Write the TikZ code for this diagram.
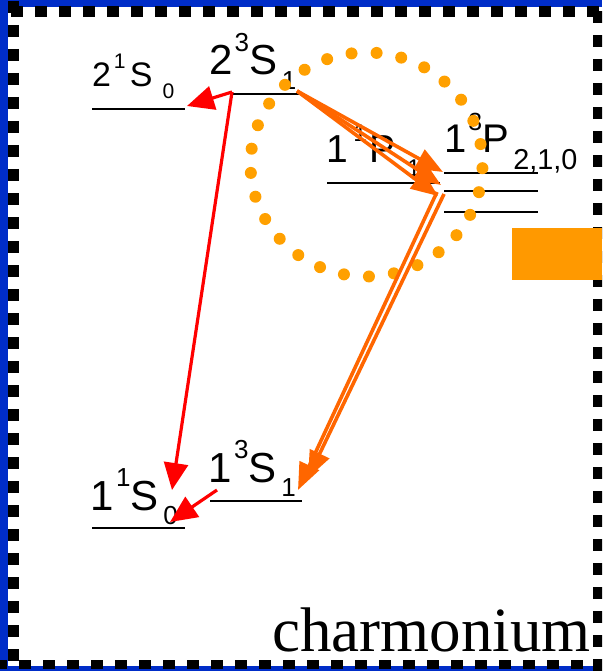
\documentclass[tikz,border=0pt]{standalone}
\usepackage{fontspec}
\setmainfont{Liberation Serif}
\newfontfamily\lblfont{Liberation Sans}
\usepackage{xcolor}
\usepackage{tikz}
\usetikzlibrary{arrows.meta,positioning}
\definecolor{frameblue}{RGB}{0,45,200}
\definecolor{boxorange}{RGB}{255,153,0}
\definecolor{dotorange}{RGB}{255,160,0}
\definecolor{arroworange}{RGB}{255,102,0}
\definecolor{arrowred}{RGB}{255,0,0}
\newcommand{\spec}[5][0.11em]{#2\hspace{0.05em}\raisebox{0.55em}{\scalebox{0.62}{#3}}#4\hspace{#1}\raisebox{-0.35em}{\scalebox{0.62}{#5}}}
\tikzstyle{level} = [line width=2.8pt, black]
\tikzstyle{bigterm} = [inner sep=0pt, anchor=base west, font=\lblfont\fontsize{42}{42}\selectfont]
\tikzstyle{smallterm} = [inner sep=0pt, anchor=base west, font=\lblfont\fontsize{35}{35}\selectfont]
\tikzstyle{redarrow} = [-{Triangle[length=27pt,width=24pt]}, line width=3.2pt, arrowred]
\tikzstyle{orangearrow} = [-{Triangle[length=27pt,width=21pt]}, line width=3.6pt, arroworange]
\tikzstyle{edge} = [line width=11pt, black, dash pattern=on 12pt off 12pt]

\begin{document}
\begin{tikzpicture}[x=1pt,y=-1pt]
\useasboundingbox (0,0) rectangle (602,671);
\begin{scope}
\clip (0,0) rectangle (602,671);
\fill[frameblue] (0,0) rectangle (602,7);
\fill[frameblue] (0,0) rectangle (8,671);
\fill[frameblue] (0,666) rectangle (602,671);
\draw[edge, dash phase=13pt] (0,11.5) -- (602,11.5);
\draw[edge, dash phase=13pt] (598,0) -- (598,671);
\draw[edge, dash phase=23pt] (13,0) -- (13,671);
\draw[edge, line width=9pt, dash phase=5pt] (0,664) -- (602,664);
\fill[boxorange] (512,228) rectangle (602,280);
\end{scope}

\draw[level] (92,109) -- (185,109);
\draw[level] (232,94) -- (300,94);
\draw[level] (327,183) -- (440,183);
\draw[level] (444,173) -- (538,173);
\draw[level] (444,191) -- (538,191);
\draw[level] (444,212) -- (538,212);
\draw[level] (210,501) -- (302,501);
\draw[level] (92,528) -- (185,528);

\node[smallterm, font=\lblfont\fontsize{34}{34}\selectfont] (l21S0) at (92,87) {\spec[0.3em]{2}{\hspace{0.05em}1\hspace{0.2em}}{S}{0}};
\node[bigterm] (l23S1) at (209,75) {\spec{2}{3}{S}{1}};
\node[smallterm, font=\lblfont\fontsize{39}{39}\selectfont] (l11P1) at (326,163) {\spec[0.3em]{1}{\hspace{0.15em}1\hspace{0.1em}}{P}{1}};
\node[bigterm, font=\lblfont\fontsize{40}{40}\selectfont] (l13PJ) at (444,153) {1\hspace{0.05em}\raisebox{0.55em}{\scalebox{0.62}{3}}P\hspace{0.11em}\raisebox{-0.42em}{\scalebox{0.72}{2,1,0}}};
\node[bigterm] (l13S1) at (208.5,482) {\spec{1}{3}{S}{1}};
\node[bigterm] (l11S0) at (90.5,510) {\spec{1}{1}{S}{0}};
\node[anchor=base east, inner sep=0pt, font=\fontsize{63}{70}\selectfont] (name) at (591,651) {charmonium};

\foreach \k in {0,...,28}
  \fill[dotorange] ({366.5+116*cos(85+\k*360/29)},{164.5-112*sin(85+\k*360/29)}) circle (6);

\coordinate (c23S1l) at (232,92);
\coordinate (c23S1r) at (297,91);
\coordinate (c21S0r) at (187,106);
\coordinate (c11S0t) at (172,490);
\coordinate (c11S0r) at (170,522);
\coordinate (c13S1l) at (217,490);
\coordinate (c13Pa) at (443,172);
\coordinate (c13Pb) at (441,185);
\coordinate (c13Pc) at (438,196);
\coordinate (c13Pd) at (437,192);
\coordinate (c13Pe) at (444,194);
\coordinate (c13S1a) at (298,490);
\coordinate (c13S1b) at (308,478);

\draw[redarrow] (c23S1l) -- (c21S0r);
\draw[redarrow] (c23S1l) -- (c11S0t);
\draw[redarrow] (c13S1l) -- (c11S0r);
\draw[orangearrow] (c23S1r) -- (c13Pa);
\draw[orangearrow] (c23S1r) -- (c13Pb);
\draw[orangearrow] (c23S1r) -- (c13Pc);
\draw[orangearrow] (c13Pd) -- (c13S1a);
\draw[orangearrow] (c13Pe) -- (c13S1b);
\end{tikzpicture}
\end{document}
